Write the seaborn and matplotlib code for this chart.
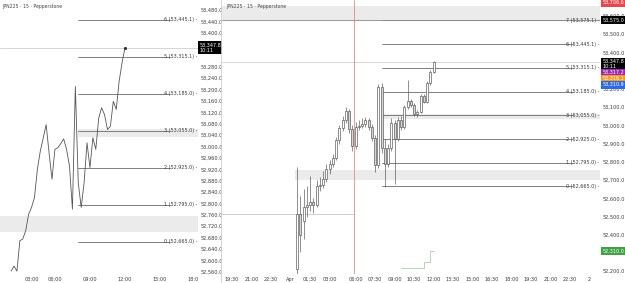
import matplotlib
matplotlib.use("Agg")
import matplotlib.pyplot as plt
import matplotlib.transforms as mtransforms
from matplotlib.lines import Line2D
import seaborn as sns
import pandas as pd
import numpy as np

sns.set_theme(style="white")
plt.rcParams['font.family'] = ['DejaVu Sans']

# ---------------- data ----------------
bar_idx = list(range(43))
opens = [52215, 52513, 52475, 52551, 52562, 52580, 52562, 52669, 52675, 52704,
         52762, 52786, 52821, 52920, 52984, 53030, 53077, 52978, 52885, 52990,
         52996, 53010, 53027, 52990, 52931, 52780, 53211, 52873, 52786, 52873,
         53013, 52926, 53031, 52990, 53100, 53136, 53112, 53060, 53071, 53159,
         53130, 53230, 53295]
highs = [52769, 52611, 52649, 52666, 52720, 52600, 52700, 52715, 52750, 52790,
         52810, 52845, 52935, 53000, 53050, 53100, 53090, 53000, 53020, 53030,
         53040, 53045, 53040, 53005, 52945, 53225, 53230, 52925, 52900, 53040,
         53030, 53045, 53050, 53110, 53250, 53145, 53120, 53085, 53170, 53170,
         53245, 53305, 53355]
lows = [52174, 52305, 52376, 52500, 52530, 52520, 52550, 52640, 52655, 52690,
        52735, 52770, 52810, 52900, 52970, 53015, 52960, 52860, 52870, 52975,
        52985, 52990, 52975, 52915, 52745, 52765, 52850, 52660, 52770, 52860,
        52680, 52915, 52975, 52980, 53090, 53100, 53050, 53045, 53065, 53120,
        53120, 53220, 53285]
closes = [52513, 52400, 52551, 52562, 52580, 52562, 52669, 52675, 52704, 52762,
          52786, 52821, 52920, 52984, 53030, 53077, 52978, 52885, 52990, 52996,
          53010, 53027, 52990, 52931, 52780, 53211, 52873, 52786, 52873, 53013,
          52926, 53031, 52990, 53100, 53136, 53112, 53060, 53071, 53159, 53130,
          53230, 53295, 53348]
line_first_bar = 3

level_ids = [0, 1, 2, 3, 4, 5, 6, 7]
level_prices = [52665.0, 52795.0, 52925.0, 53055.0, 53185.0, 53315.1, 53445.1, 53575.1]
level_start_bar = 26

zone_low = [52700, 53032, 53573]
zone_high = [52755, 53060, 53655]
zone_start_bar = [None, 26, None]

indicator_bars = [32, 39, 39, 41, 41, 42]
indicator_vals = [52218, 52218, 52250, 52250, 52312, 52312]

current_price = 53347.8
prev_close_price = 52513
session_bar = 17.5

left_price_ticks = [52560, 52600, 52640, 52680, 52720, 52760, 52800, 52840, 52880, 52920,
                    52960, 53000, 53040, 53080, 53120, 53160, 53200, 53240, 53280,
                    53400, 53440, 53480]
right_price_ticks = [52200, 52400, 52500, 52600, 52700, 52800, 52900, 53000, 53100,
                     53200, 53400, 53500, 53600]

left_ticks = [10, 18, 30, 42, 54, 66]
left_tick_labels = ['03:00', '06:00', '09:00', '12:00', '15:00', '18:00']
right_ticks = [-20, -14, -8, -2, 4, 10, 18, 24, 30, 36, 42, 48, 54, 60, 66, 72, 78, 84, 90]
right_tick_labels = ['19:30', '21:00', '22:30', 'Apr', '01:30', '03:00', '06:00', '07:30',
                     '09:00', '10:30', '12:00', '13:30', '15:00', '16:30', '18:00',
                     '19:30', '21:00', '22:30', '2']

df = pd.DataFrame({'bar': bar_idx, 'open': opens, 'high': highs, 'low': lows, 'close': closes})

# ---------------- figure ----------------
W, H = 625, 283
fig = plt.figure(figsize=(W / 100, H / 100), dpi=100)
fig.patch.set_facecolor('white')
top_px, bot_px = 0, 274
ax1 = fig.add_axes([0 / W, (H - bot_px) / H, 198 / W, (bot_px - top_px) / H])
ax2 = fig.add_axes([222 / W, (H - bot_px) / H, 378 / W, (bot_px - top_px) / H])

ax1.set_xlim(-0.8, 67.0)
ax1.set_ylim(52552, 53515)
ax2.set_xlim(-23.1, 93.2)
ax2.set_ylim(52185, 53687)

zone_color = '#ebebeb'
level_color = '#6a6a6a'
txt_color = '#3a3a3a'
fs = 3.6

for ax, xmax_bar in ((ax1, 57.4), (ax2, 85.0)):
    for s in ax.spines.values():
        s.set_visible(False)
    ax.set_facecolor('white')
    ylo, yhi = ax.get_ylim()
    # zones
    for lo, hi, st in zip(zone_low, zone_high, zone_start_bar):
        if lo > yhi:
            continue
        x0 = ax.get_xlim()[0] if st is None else st
        if ax is ax2 and lo == zone_low[0]:
            x0 = -0.5
        ax.fill_between([x0, ax.get_xlim()[1]], lo, min(hi, yhi), color=zone_color, lw=0, zorder=0.5)
    # levels
    for k, p in zip(level_ids, level_prices):
        if not (ylo < p < yhi):
            continue
        ax.plot([level_start_bar, xmax_bar], [p, p], color=level_color, lw=0.6, zorder=1)
        ax.text(0.998, p, f"{k} ({p:,.1f}) -", transform=ax.get_yaxis_transform(),
                ha='right', va='center', fontsize=3.5, color=txt_color, zorder=4)
    # current price line
    ax.axhline(current_price, color='#cfcfcf', lw=0.6, zorder=0.8)

# right panel extra lines
ax2.axhline(level_prices[7], color='#8a8a8a', lw=0.6, zorder=1)
ax2.plot([ax2.get_xlim()[0], session_bar], [prev_close_price, prev_close_price],
         color='#c8c8c8', lw=0.6, zorder=0.8)
ax2.axvline(session_bar, color='#e08a8a', lw=0.6, zorder=1)

# ---- left: line chart of closes ----
dline = df[df['bar'] >= line_first_bar]
sns.lineplot(data=dline, x='bar', y='close', ax=ax1, color='#555555', lw=0.6, zorder=3)
ax1.plot([dline['bar'].iloc[-1]], [dline['close'].iloc[-1]], 'o', ms=1.2, color='#333333', zorder=4)

# ---- right: candlesticks ----
up = df['close'] >= df['open']
ax2.vlines(df['bar'], df['low'], df['high'], color='#505050', lw=0.45, zorder=2)
ax2.bar(df['bar'], (df['close'] - df['open']).abs().clip(lower=3),
        bottom=df[['open', 'close']].min(axis=1), width=0.62,
        color=np.where(up, 'white', '#d6d6d6'), edgecolor='#505050', linewidth=0.45, zorder=3)

# indicator step line
ax2.plot(indicator_bars, indicator_vals, color='#a9cfa9', lw=0.6, zorder=2)

# ---------------- axes ticks ----------------
ax1.set_yticks(left_price_ticks)
ax1.set_yticklabels([f"{v:,.1f}" for v in left_price_ticks])
ax2.set_yticks(right_price_ticks)
ax2.set_yticklabels([f"{v:,.1f}" for v in right_price_ticks])
ax1.set_xticks(left_ticks)
ax1.set_xticklabels(left_tick_labels)
ax2.set_xticks(right_ticks)
ax2.set_xticklabels(right_tick_labels)
for ax in (ax1, ax2):
    ax.yaxis.tick_right()
    ax.tick_params(axis='both', length=0, labelsize=fs, labelcolor=txt_color)
    ax.tick_params(axis='y', pad=2.0)
    ax.tick_params(axis='x', pad=2.5)
    ax.set_xlabel('')
    ax.set_ylabel('')
    ax.grid(False)

# headers
for ax in (ax1, ax2):
    ax.text(0.012, 0.985, "JPN225 · 15 · Pepperstone", transform=ax.transAxes,
            ha='left', va='top', fontsize=3.3, color='#444444')

# price axis badges
def badge(ax, price, text, fc, tc='white'):
    ax.text(1.006, price, text, transform=ax.get_yaxis_transform(), ha='left', va='center',
            fontsize=3.5, color=tc, clip_on=False, zorder=6, linespacing=1.0,
            bbox=dict(boxstyle='square,pad=0.3', fc=fc, ec='none'))

badge(ax1, current_price, "53,347.8\n10:11", 'black')
badge(ax2, 53672, "53,706.6", '#e5484d')
badge(ax2, 53575.0, "53,575.0", 'black')
badge(ax2, 53335, "53,347.8\n10:11", 'black')
badge(ax2, 53289, "53,317.2", '#9c27b0')
badge(ax2, 53256, "53,316.1", '#f59a23')
badge(ax2, 53223, "53,310.9", '#2f6bdf')
badge(ax2, 52312, "52,310.0", '#43a047')

# panel separator
fig.add_artist(Line2D([221 / W, 221 / W], [0, 1], color='#d0d0d0', lw=0.6))

# clip left time labels at panel edge
clipbox = mtransforms.Bbox([[0, 0], [198, H]])
for lab in ax1.get_xticklabels():
    lab.set_clip_box(clipbox)
    lab.set_clip_on(True)

fig.savefig('out.png', dpi=100, facecolor='white')
